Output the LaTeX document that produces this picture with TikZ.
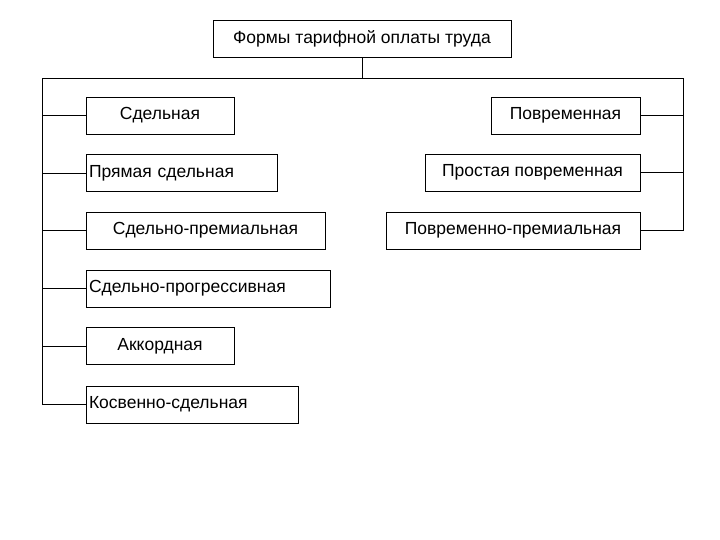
\documentclass[tikz,border=0pt]{standalone}
\usepackage{fontspec}
\setmainfont{Liberation Sans}
\begin{document}
\begin{tikzpicture}[x=1pt,y=-1pt,
  bx/.style={draw,line width=0.8pt,rectangle,minimum height=37pt,inner sep=3pt,font=\fontsize{17.5}{20}\selectfont},
  ln/.style={line width=0.8pt}]
\useasboundingbox (0,0) rectangle (720,540);
\node[bx,minimum width=298pt] (top) at (362,38.5) {Формы тарифной оплаты труда};
% left
\node[bx,minimum width=148pt] (l1) at (160,115.5) {Сдельная};
\node[bx,minimum width=191pt,text width=185pt,align=left] (l2) at (181.5,173) {Прямая сдельная};
\node[bx,minimum width=239pt] (l3) at (205.5,230.5) {Сдельно-премиальная};
\node[bx,minimum width=244pt,text width=238pt,align=left] (l4) at (208,288.5) {Сдельно-прогрессивная};
\node[bx,minimum width=148pt] (l5) at (160,346) {Аккордная};
\node[bx,minimum width=212pt,text width=206pt,align=left] (l6) at (192,404.5) {Косвенно-сдельная};
% right
\node[bx,minimum width=149pt] (r1) at (565.5,115.5) {Повременная};
\node[bx,minimum width=215pt] (r2) at (532.5,172.5) {Простая повременная};
\node[bx,minimum width=254pt] (r3) at (513,230.5) {Повременно-премиальная};
\coordinate (j) at (362,78);
\coordinate (lt) at (42,78);
\coordinate (rt) at (683,78);
\coordinate (lb) at (42,405);
\coordinate (rb) at (683,231);
\draw[ln] (top.south) -- (j);
\draw[ln] (lb) -- (lt) -- (rt) -- (rb);
\foreach \n in {l1,l2,l3,l4,l5,l6} \draw[ln] (\n.west) -- (42,0 |- \n.west);
\foreach \n in {r1,r2,r3} \draw[ln] (\n.east) -- (683,0 |- \n.east);
\end{tikzpicture}
\end{document}
